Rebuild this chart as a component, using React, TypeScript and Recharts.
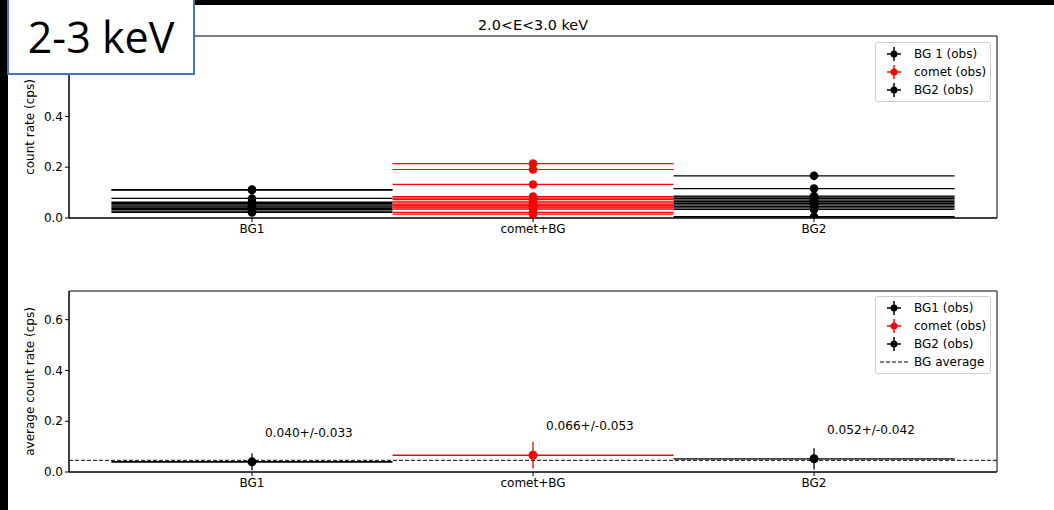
import React from 'react';
import { ComposedChart, Scatter, ErrorBar, XAxis, YAxis, ReferenceLine, ReferenceArea } from 'recharts';

// categories on the x axis
const categories = ['BG1', 'comet+BG', 'BG2'];
const xTicks = [0, 1, 2];
const topYTicks = [0, 0.2, 0.4];
const bottomYTicks = [0, 0.2, 0.4, 0.6];

// per-observation count rates (top panel)
const bg1Rates = [0.112, 0.11, 0.077, 0.062, 0.057, 0.052, 0.047, 0.043, 0.038, 0.033, 0.027, 0.022];
const bg1Errs = [0.006, 0.006, 0.008, 0.008, 0.008, 0.008, 0.008, 0.008, 0.008, 0.008, 0.008, 0.008];
const cometRates = [0.214, 0.191, 0.132, 0.084, 0.078, 0.073, 0.066, 0.06, 0.055, 0.05, 0.044, 0.04, 0.035, 0.022, 0.015];
const cometErrs = [0.006, 0.008, 0.008, 0.008, 0.008, 0.008, 0.008, 0.008, 0.008, 0.008, 0.008, 0.008, 0.008, 0.008, 0.008];
const bg2Rates = [0.166, 0.116, 0.086, 0.082, 0.076, 0.07, 0.064, 0.058, 0.052, 0.046, 0.04, 0.034, 0.005];
const bg2Errs = [0.005, 0.007, 0.008, 0.008, 0.008, 0.008, 0.008, 0.008, 0.008, 0.008, 0.008, 0.008, 0.008];

// averages (bottom panel)
const avgMeans = [0.04, 0.066, 0.052];
const avgErrs = [0.033, 0.053, 0.042];
const bgAverage = 0.046;

const X_DOMAIN: [number, number] = [-0.651, 2.651];
const TOP_YMAX = 0.7165;
const BOT_YMAX = 0.713;
const FONT = '"DejaVu Sans", sans-serif';

const toPoints = (x: number, rates: number[], errs: number[]) =>
  rates.map((v, i) => ({ x, y: v, xerr: 0.5, yerr: errs[i] }));

const bg1Data = toPoints(0, bg1Rates, bg1Errs);
const cometData = toPoints(1, cometRates, cometErrs);
const bg2Data = toPoints(2, bg2Rates, bg2Errs);

const avgData = avgMeans.map((m, i) => ({
  x: i,
  y: m,
  xerr: 0.5,
  yerr: avgErrs[i],
  label: `${m.toFixed(3)}+/-${avgErrs[i].toFixed(3)}`,
}));

const dot = (color: string, r: number) => (props: any) =>
  <circle cx={props.cx} cy={props.cy} r={r} fill={color} />;

const labelledDot = (color: string) => (props: any) => (
  <g>
    <circle cx={props.cx} cy={props.cy} r={4.5} fill={color} />
    <text x={props.cx + 13} y={props.cy - 29} dominantBaseline="central" fontSize={12.1} fontFamily={FONT} fill="#000">
      {props.payload.label}
    </text>
  </g>
);

const yLabel = (text: string) => (props: any) => {
  const vb = props.viewBox;
  const cy = vb.y + vb.height / 2;
  return (
    <text x={30} y={cy} transform={`rotate(-90 30 ${cy})`} textAnchor="middle" dominantBaseline="central" fontSize={12} fontFamily={FONT} fill="#000">
      {text}
    </text>
  );
};

const tickStyle = { fill: '#000', fontSize: 12, fontFamily: FONT };

function Axes({ yMax, ticks, label }: { yMax: number; ticks: number[]; label: string }) {
  return (
    <>
      <XAxis
        type="number"
        dataKey="x"
        domain={X_DOMAIN}
        ticks={xTicks}
        interval={0}
        allowDataOverflow
        tickFormatter={(v) => categories[v] ?? ''}
        tick={tickStyle}
        tickSize={4}
        height={30}
        stroke="#000"
      />
      <YAxis
        type="number"
        dataKey="y"
        domain={[0, yMax]}
        ticks={ticks}
        allowDataOverflow
        tickFormatter={(v) => v.toFixed(1)}
        tick={tickStyle}
        tickSize={4}
        width={69}
        stroke="#000"
        label={{ content: yLabel(label) }}
      />
    </>
  );
}

type LegendItem = { name: string; color: string; dashed?: boolean };

function LegendBox({ items, left, top }: { items: LegendItem[]; left: number; top: number }) {
  return (
    <div style={{
      position: 'absolute', left, top, width: 114, padding: '2px 0',
      border: '1px solid #ccc', borderRadius: 3, background: 'rgba(255,255,255,0.8)',
      fontFamily: FONT, fontSize: 12, color: '#000',
    }}>
      {items.map((it) => (
        <div key={it.name} style={{ height: 18, display: 'flex', alignItems: 'center' }}>
          <svg width={36} height={18} style={{ flex: 'none' }}>
            {it.dashed ? (
              <line x1={4} x2={32} y1={9} y2={9} stroke="#000" strokeDasharray="4 2" />
            ) : (
              <g stroke={it.color} strokeWidth={1.5}>
                <line x1={11} x2={25} y1={9} y2={9} />
                <line x1={18} x2={18} y1={2} y2={16} />
                <circle cx={18} cy={9} r={3.5} fill={it.color} stroke="none" />
              </g>
            )}
          </svg>
          <span style={{ marginLeft: 2 }}>{it.name}</span>
        </div>
      ))}
    </div>
  );
}

export default function App() {
  return (
    <div style={{ position: 'fixed', left: 0, top: 0, width: 1054, height: 510, background: '#fff', overflow: 'hidden' }}>
      {/* top panel */}
      <div style={{ position: 'absolute', left: 0, top: 0 }}>
        <ComposedChart width={1054} height={250} margin={{ top: 36, right: 57, bottom: 2, left: 0 }}>
          {Axes({ yMax: TOP_YMAX, ticks: topYTicks, label: 'count rate (cps)' })}
          <ReferenceArea x1={X_DOMAIN[0]} x2={X_DOMAIN[1]} y1={0} y2={TOP_YMAX} fill="none" stroke="#000" />
          <Scatter data={bg1Data} dataKey="y" shape={dot('#000', 4.3)} isAnimationActive={false}>
            <ErrorBar dataKey="xerr" direction="x" width={0} stroke="#000" strokeWidth={1.3} isAnimationActive={false} />
            <ErrorBar dataKey="yerr" direction="y" width={0} stroke="#000" strokeWidth={1.3} isAnimationActive={false} />
          </Scatter>
          <Scatter data={cometData} dataKey="y" shape={dot('#ff0000', 4.3)} isAnimationActive={false}>
            <ErrorBar dataKey="xerr" direction="x" width={0} stroke="#ff0000" strokeWidth={1.2} isAnimationActive={false} />
            <ErrorBar dataKey="yerr" direction="y" width={0} stroke="#ff0000" strokeWidth={1.2} isAnimationActive={false} />
          </Scatter>
          <Scatter data={bg2Data} dataKey="y" shape={dot('#000', 4.3)} isAnimationActive={false}>
            <ErrorBar dataKey="xerr" direction="x" width={0} stroke="#000" strokeWidth={1.3} isAnimationActive={false} />
            <ErrorBar dataKey="yerr" direction="y" width={0} stroke="#000" strokeWidth={1.3} isAnimationActive={false} />
          </Scatter>
        </ComposedChart>
      </div>
      <div style={{ position: 'absolute', left: 433, width: 200, top: 16, textAlign: 'center', fontFamily: FONT, fontSize: 14.4, lineHeight: '18px', color: '#000' }}>
        2.0&lt;E&lt;3.0 keV
      </div>
      <LegendBox
        left={875}
        top={42}
        items={[
          { name: 'BG 1 (obs)', color: '#000' },
          { name: 'comet (obs)', color: '#ff0000' },
          { name: 'BG2 (obs)', color: '#000' },
        ]}
      />

      {/* bottom panel */}
      <div style={{ position: 'absolute', left: 0, top: 255 }}>
        <ComposedChart width={1054} height={250} margin={{ top: 36, right: 57, bottom: 3, left: 0 }}>
          {Axes({ yMax: BOT_YMAX, ticks: bottomYTicks, label: 'average count rate (cps)' })}
          <ReferenceArea x1={X_DOMAIN[0]} x2={X_DOMAIN[1]} y1={0} y2={BOT_YMAX} fill="none" stroke="#000" />
          <Scatter data={[avgData[0]]} dataKey="y" shape={labelledDot('#000')} isAnimationActive={false}>
            <ErrorBar dataKey="xerr" direction="x" width={0} stroke="#000" strokeWidth={1.8} isAnimationActive={false} />
            <ErrorBar dataKey="yerr" direction="y" width={0} stroke="#000" strokeWidth={1.3} isAnimationActive={false} />
          </Scatter>
          <Scatter data={[avgData[1]]} dataKey="y" shape={labelledDot('#ff0000')} isAnimationActive={false}>
            <ErrorBar dataKey="xerr" direction="x" width={0} stroke="#ff0000" strokeWidth={1.3} isAnimationActive={false} />
            <ErrorBar dataKey="yerr" direction="y" width={0} stroke="#ff0000" strokeWidth={1.3} isAnimationActive={false} />
          </Scatter>
          <Scatter data={[avgData[2]]} dataKey="y" shape={labelledDot('#000')} isAnimationActive={false}>
            <ErrorBar dataKey="xerr" direction="x" width={0} stroke="#444" strokeWidth={1.8} isAnimationActive={false} />
            <ErrorBar dataKey="yerr" direction="y" width={0} stroke="#000" strokeWidth={1.3} isAnimationActive={false} />
          </Scatter>
          <ReferenceLine y={bgAverage} stroke="#000" strokeDasharray="4 2" strokeWidth={1} />
        </ComposedChart>
      </div>
      <LegendBox
        left={875}
        top={296}
        items={[
          { name: 'BG1 (obs)', color: '#000' },
          { name: 'comet (obs)', color: '#ff0000' },
          { name: 'BG2 (obs)', color: '#000' },
          { name: 'BG average', color: '#000', dashed: true },
        ]}
      />

      {/* slide decorations */}
      <div style={{ position: 'absolute', left: 0, top: 0, width: 1054, height: 5, background: '#000' }} />
      <div style={{ position: 'absolute', left: 0, top: 0, width: 8, height: 510, background: '#000' }} />
      <div style={{
        position: 'absolute', left: 7, top: -2, width: 184, height: 73, background: '#fff',
        border: '2px solid #4472C4', display: 'flex', alignItems: 'center', justifyContent: 'center',
        fontFamily: '"Open Sans", sans-serif', fontSize: 43, color: '#000', boxSizing: 'content-box',
      }}>
        2-3 keV
      </div>
    </div>
  );
}
